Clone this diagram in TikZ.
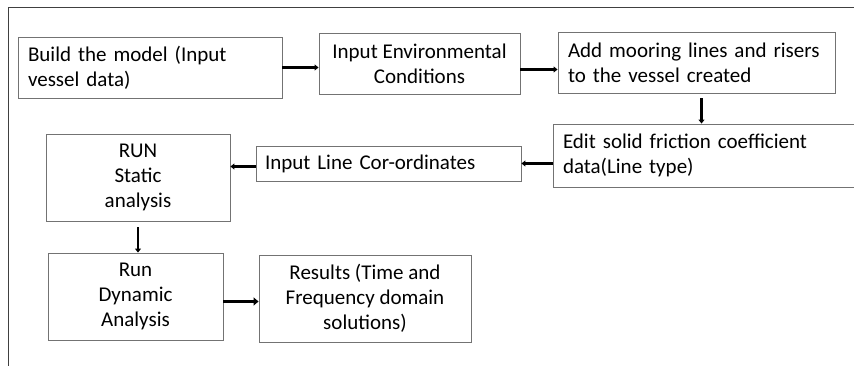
\documentclass[tikz,border=0pt]{standalone}
\usepackage{fontspec}
\setmainfont{Carlito}
\usetikzlibrary{arrows.meta}

\begin{document}
\begin{tikzpicture}[x=1pt, y=-1pt, font=\fontsize{21}{25}\selectfont,
  stage/.style={draw=black!55, line width=0.9pt, rectangle, inner sep=0pt, align=center},
  flow/.style={-{Triangle[length=4pt, width=6pt]}, line width=2.2pt}]
  \useasboundingbox (0,0) rectangle (854,366);
  \clip (0,0) rectangle (854,366);
  \draw[black!75, line width=1pt] (854,8) -- (8,8) -- (8,366);
  % top row
  \node[stage, minimum width=264pt, minimum height=61pt, text width=244pt, align=left] (build) at (150,67.5) {Build the model (Input\\vessel data)};
  \node[stage, minimum width=201pt, minimum height=61pt] (env) at (419.5,63.5) {Input Environmental\\Conditions};
  \node[stage, minimum width=277pt, minimum height=61pt, text width=257pt, align=left] (moor) at (696.5,62.5) {Add mooring lines and risers\\to the vessel created};
  % middle row
  \node[stage, minimum width=310pt, minimum height=63pt, text width=290pt, align=left] (fric) at (708,155.5) {Edit solid friction coefficient\\data(Line type)};
  \node[stage, minimum width=265pt, minimum height=35pt, text width=247pt, align=left] (coord) at (388.5,163.5) {Input Line Cor-ordinates};
  \node[stage, minimum width=184pt, minimum height=87pt] (static) at (138,177.5) {RUN\\Static\\analysis};
  % bottom row
  \node[stage, minimum width=175pt, minimum height=87pt] (dyn) at (135.5,296.5) {Run\\Dynamic\\Analysis};
  \node[stage, minimum width=212pt, minimum height=87pt] (res) at (365,298.5) {Results (Time and\\Frequency domain\\solutions)};
  % connectors
  \draw[flow] (build.east) -- (build.east -| env.west);
  \draw[flow] ([yshift=-6pt]env.east) -- ([yshift=-6pt]env.east -| moor.west);
  \draw[flow] ([xshift=5pt, yshift=-5pt]moor.south) -- ([xshift=5pt]moor.south |- fric.north);
  \draw[flow] (fric.west |- coord.east) -- (coord.east);
  \draw[flow] ([yshift=-3pt]coord.west) -- ([yshift=-3pt]coord.west -| static.east);
  \draw[flow] ([yshift=-6pt]static.south) -- (static.south |- dyn.north);
  \draw[flow, line width=3.4pt, -{Triangle[length=5pt, width=8pt]}] ([yshift=-5pt]dyn.east) -- ([yshift=-5pt]dyn.east -| res.west);
\end{tikzpicture}
\end{document}
